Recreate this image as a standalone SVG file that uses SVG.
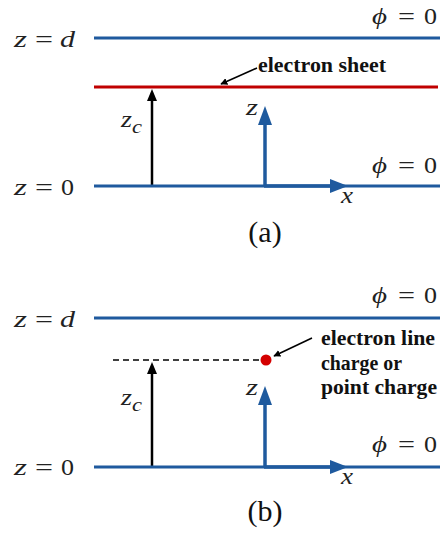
<svg xmlns="http://www.w3.org/2000/svg" width="440" height="535" viewBox="0 0 440 535">
<style>
.bg{fill:#ffffff}
.plate{stroke:#1f5a9e;stroke-width:3;fill:none}
.sheet{stroke:#c00000;stroke-width:3;fill:none}
.blk{stroke:#000;stroke-width:2.5;fill:none}
.blu{stroke:#1f5a9e;stroke-width:3.5;fill:none}
.ptr{stroke:#000;stroke-width:1.6;fill:none}
.dash{stroke:#000;stroke-width:1.5;stroke-dasharray:6 4;fill:none}
.headK{fill:#000}
.headB{fill:#1f5a9e}
.m{font-family:'Times New Roman','Liberation Serif',Tinos,serif;font-size:24px;fill:#222}
.mi{font-style:italic}
.lab{font-family:'Times New Roman','Liberation Serif',Tinos,serif;font-weight:bold;font-size:20px;fill:#111}
.cap{font-family:'Times New Roman','Liberation Serif',Tinos,serif;font-size:30px;fill:#111}
</style>
<defs>
<marker id="ah" viewBox="0 0 10 10" refX="9" refY="5" markerWidth="7" markerHeight="7" markerUnits="userSpaceOnUse" orient="auto">
<path d="M0,0 L10,5 L0,10 z" fill="#000"/>
</marker>
</defs>
<rect class="bg" x="0" y="0" width="440" height="535"/>

<g id="connectors">
<!-- panel a -->
<line class="blk" x1="152" y1="187" x2="152" y2="98"/>
<polygon class="headK" points="152,89 147,101 157,101"/>
<line class="blu" x1="265" y1="187" x2="265" y2="122"/>
<polygon class="headB" points="265,106 258,125 272,125"/>
<line class="blu" x1="264" y1="186" x2="334" y2="186"/>
<polygon class="headB" points="348,186 330,179 330,193"/>
<line class="ptr" x1="257" y1="68" x2="221" y2="84" marker-end="url(#ah)"/>
<!-- panel b -->
<line class="blk" x1="152" y1="468" x2="152" y2="371"/>
<polygon class="headK" points="152,362 147,374 157,374"/>
<line class="blu" x1="265" y1="468" x2="265" y2="402"/>
<polygon class="headB" points="265,386 258,405 272,405"/>
<line class="blu" x1="264" y1="467" x2="334" y2="467"/>
<polygon class="headB" points="348,467 330,460 330,474"/>
<line class="ptr" x1="312" y1="338" x2="274" y2="356" marker-end="url(#ah)"/>
</g>

<g id="panel-a">
<g id="a-top-plate">
<line class="plate" x1="94" y1="38" x2="440" y2="38"/>
<text class="m" y="47"><tspan class="mi" x="14" textLength="13" lengthAdjust="spacingAndGlyphs">z</tspan><tspan x="35" textLength="18" lengthAdjust="spacingAndGlyphs">=</tspan><tspan class="mi" x="60" textLength="15" lengthAdjust="spacingAndGlyphs">d</tspan></text>
<text class="m" y="24"><tspan class="mi" x="372" textLength="15" lengthAdjust="spacingAndGlyphs">ϕ</tspan><tspan x="398" textLength="17" lengthAdjust="spacingAndGlyphs">=</tspan><tspan x="424" textLength="13" lengthAdjust="spacingAndGlyphs">0</tspan></text>
</g>
<g id="a-sheet">
<line class="sheet" x1="94" y1="87" x2="438" y2="87"/>
<text class="lab" x="258" y="72" textLength="128" lengthAdjust="spacingAndGlyphs">electron sheet</text>
</g>
<g id="a-bottom-plate">
<line class="plate" x1="94" y1="186" x2="440" y2="186"/>
<text class="m" y="195"><tspan class="mi" x="14" textLength="13" lengthAdjust="spacingAndGlyphs">z</tspan><tspan x="35" textLength="18" lengthAdjust="spacingAndGlyphs">=</tspan><tspan x="61" textLength="13" lengthAdjust="spacingAndGlyphs">0</tspan></text>
<text class="m" y="173"><tspan class="mi" x="372" textLength="15" lengthAdjust="spacingAndGlyphs">ϕ</tspan><tspan x="398" textLength="17" lengthAdjust="spacingAndGlyphs">=</tspan><tspan x="424" textLength="13" lengthAdjust="spacingAndGlyphs">0</tspan></text>
</g>
<g id="a-zc">
<text class="m" y="127"><tspan class="mi" x="121" textLength="11" lengthAdjust="spacingAndGlyphs">z</tspan><tspan class="mi" x="132" y="133" font-size="19" textLength="10" lengthAdjust="spacingAndGlyphs">c</tspan></text>
</g>
<g id="a-axes">
<text class="m mi" x="246" y="115" textLength="12" lengthAdjust="spacingAndGlyphs">z</text>
<text class="m mi" x="341" y="203" textLength="12" lengthAdjust="spacingAndGlyphs">x</text>
</g>
<text id="a-caption" class="cap" x="265" y="242" text-anchor="middle">(a)</text>
</g>

<g id="panel-b">
<g id="b-top-plate">
<line class="plate" x1="94" y1="318" x2="440" y2="318"/>
<text class="m" y="327"><tspan class="mi" x="14" textLength="13" lengthAdjust="spacingAndGlyphs">z</tspan><tspan x="35" textLength="18" lengthAdjust="spacingAndGlyphs">=</tspan><tspan class="mi" x="60" textLength="15" lengthAdjust="spacingAndGlyphs">d</tspan></text>
<text class="m" y="303"><tspan class="mi" x="372" textLength="15" lengthAdjust="spacingAndGlyphs">ϕ</tspan><tspan x="398" textLength="17" lengthAdjust="spacingAndGlyphs">=</tspan><tspan x="424" textLength="13" lengthAdjust="spacingAndGlyphs">0</tspan></text>
</g>
<g id="b-charge">
<line class="dash" x1="113" y1="360" x2="260" y2="360"/>
<circle cx="266" cy="360" r="5.5" fill="#d40000"/>
<text class="lab" x="321" y="345" textLength="114" lengthAdjust="spacingAndGlyphs">electron line</text>
<text class="lab" x="321" y="370" textLength="81" lengthAdjust="spacingAndGlyphs">charge or</text>
<text class="lab" x="321" y="394" textLength="116" lengthAdjust="spacingAndGlyphs">point charge</text>
</g>
<g id="b-bottom-plate">
<line class="plate" x1="94" y1="467" x2="440" y2="467"/>
<text class="m" y="475"><tspan class="mi" x="14" textLength="13" lengthAdjust="spacingAndGlyphs">z</tspan><tspan x="35" textLength="18" lengthAdjust="spacingAndGlyphs">=</tspan><tspan x="61" textLength="13" lengthAdjust="spacingAndGlyphs">0</tspan></text>
<text class="m" y="452"><tspan class="mi" x="372" textLength="15" lengthAdjust="spacingAndGlyphs">ϕ</tspan><tspan x="398" textLength="17" lengthAdjust="spacingAndGlyphs">=</tspan><tspan x="424" textLength="13" lengthAdjust="spacingAndGlyphs">0</tspan></text>
</g>
<g id="b-zc">
<text class="m" y="405"><tspan class="mi" x="121" textLength="11" lengthAdjust="spacingAndGlyphs">z</tspan><tspan class="mi" x="132" y="411" font-size="19" textLength="10" lengthAdjust="spacingAndGlyphs">c</tspan></text>
</g>
<g id="b-axes">
<text class="m mi" x="246" y="395" textLength="12" lengthAdjust="spacingAndGlyphs">z</text>
<text class="m mi" x="341" y="484" textLength="12" lengthAdjust="spacingAndGlyphs">x</text>
</g>
<text id="b-caption" class="cap" x="265" y="521" text-anchor="middle">(b)</text>
</g>
</svg>
